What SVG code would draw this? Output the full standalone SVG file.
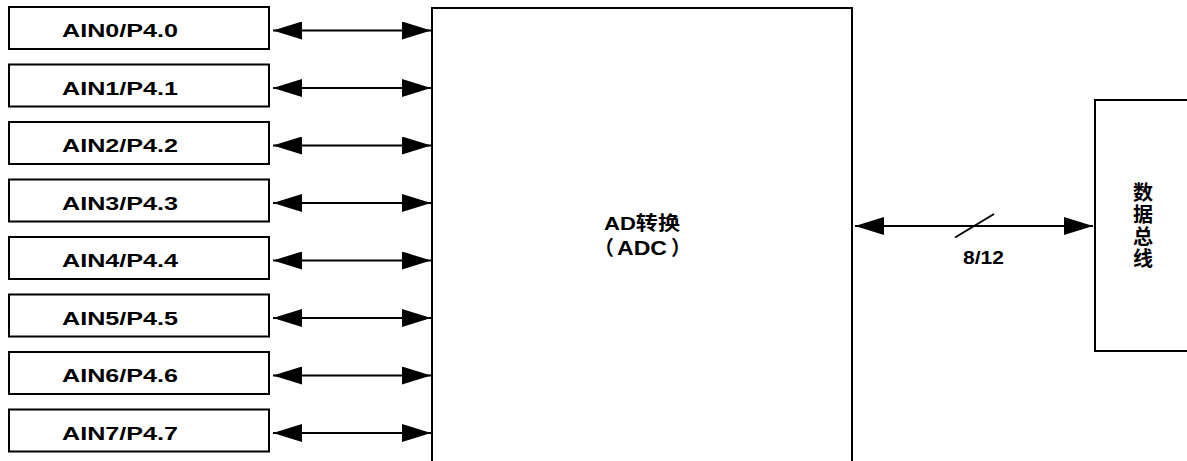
<svg xmlns="http://www.w3.org/2000/svg" width="1187" height="461" viewBox="0 0 1187 461">
<style>
.box{fill:#fff;stroke:#000;stroke-width:2}
.lbl{font-family:"Liberation Sans","Noto Sans CJK SC",Arial,sans-serif;font-weight:bold;font-size:19px;fill:#000}
.cjk{font-family:"Noto Sans CJK SC","Liberation Sans",sans-serif;font-weight:bold;font-size:20px;fill:#000}
.conn{stroke:#000;stroke-width:2;fill:none;marker-start:url(#ah);marker-end:url(#ah)}
</style>
<defs>
<marker id="ah" markerUnits="userSpaceOnUse" markerWidth="29" markerHeight="18" refX="29" refY="9" orient="auto-start-reverse" viewBox="0 0 29 18">
<path d="M0,0 L29,9 L0,18 z" fill="#000"/>
</marker>
</defs>
<g id="ain0"><rect class="box" x="9" y="7" width="260" height="42"/><text class="lbl" x="62" y="37" textLength="116" lengthAdjust="spacingAndGlyphs">AIN0/P4.0</text></g>
<g id="ain1"><rect class="box" x="9" y="64.5" width="260" height="42"/><text class="lbl" x="62" y="94.5" textLength="116" lengthAdjust="spacingAndGlyphs">AIN1/P4.1</text></g>
<g id="ain2"><rect class="box" x="9" y="122" width="260" height="42"/><text class="lbl" x="62" y="152" textLength="116" lengthAdjust="spacingAndGlyphs">AIN2/P4.2</text></g>
<g id="ain3"><rect class="box" x="9" y="179.5" width="260" height="42"/><text class="lbl" x="62" y="209.5" textLength="116" lengthAdjust="spacingAndGlyphs">AIN3/P4.3</text></g>
<g id="ain4"><rect class="box" x="9" y="237" width="260" height="42"/><text class="lbl" x="62" y="267" textLength="116" lengthAdjust="spacingAndGlyphs">AIN4/P4.4</text></g>
<g id="ain5"><rect class="box" x="9" y="294.5" width="260" height="42"/><text class="lbl" x="62" y="324.5" textLength="116" lengthAdjust="spacingAndGlyphs">AIN5/P4.5</text></g>
<g id="ain6"><rect class="box" x="9" y="352" width="260" height="42"/><text class="lbl" x="62" y="382" textLength="116" lengthAdjust="spacingAndGlyphs">AIN6/P4.6</text></g>
<g id="ain7"><rect class="box" x="9" y="409.5" width="260" height="42"/><text class="lbl" x="62" y="439.5" textLength="116" lengthAdjust="spacingAndGlyphs">AIN7/P4.7</text></g>
<g id="adc"><rect class="box" x="432" y="8" width="420" height="470"/>
<text class="lbl" x="604" y="230" textLength="76" lengthAdjust="spacingAndGlyphs">AD转换</text>
<text class="cjk" y="255" font-size="19"><tspan x="594">（</tspan><tspan x="617" font-family="Liberation Sans, sans-serif" textLength="50" lengthAdjust="spacingAndGlyphs">ADC</tspan><tspan x="671">）</tspan></text></g>
<g id="bus"><rect class="box" x="1095" y="100" width="110" height="251"/>
<text class="cjk" x="1143" y="182" style="writing-mode:vertical-rl" letter-spacing="2">数据总线</text></g>
<g id="connectors">
<line class="conn" x1="273" y1="30.5" x2="431" y2="30.5"/>
<line class="conn" x1="273" y1="88" x2="431" y2="88"/>
<line class="conn" x1="273" y1="145.5" x2="431" y2="145.5"/>
<line class="conn" x1="273" y1="203" x2="431" y2="203"/>
<line class="conn" x1="273" y1="260.5" x2="431" y2="260.5"/>
<line class="conn" x1="273" y1="318" x2="431" y2="318"/>
<line class="conn" x1="273" y1="375.5" x2="431" y2="375.5"/>
<line class="conn" x1="273" y1="433" x2="431" y2="433"/>
<line class="conn" x1="855" y1="226" x2="1093" y2="226"/>
<line x1="955" y1="237.5" x2="994" y2="214" stroke="#000" stroke-width="2"/>
<text class="lbl" x="963" y="264" textLength="41" lengthAdjust="spacingAndGlyphs">8/12</text>
</g>
</svg>
